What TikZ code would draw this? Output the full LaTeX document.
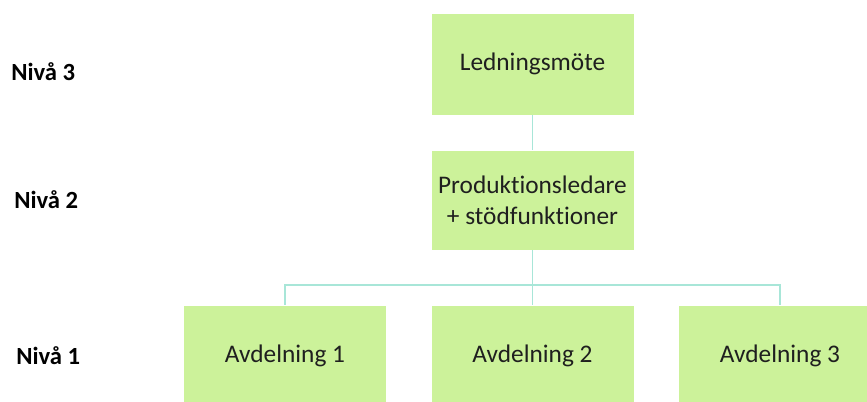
\documentclass[tikz,border=0pt]{standalone}
\usepackage{fontspec}
\setmainfont{Carlito}[RawFeature={-liga;-clig}]
\definecolor{boxfill}{HTML}{CCF29A}
\definecolor{linecol}{HTML}{A8E6D8}
\begin{document}
\begin{tikzpicture}[x=0.75pt,y=-0.75pt,
  orgbox/.style={fill=boxfill,draw=white,line width=0.6pt,minimum width=203*0.75pt,minimum height=102*0.75pt,inner sep=0pt,align=center,font=\fontsize{19}{23}\selectfont,text=black!88},
  level/.style={font=\bfseries\fontsize{18.5}{22}\selectfont,anchor=west,inner sep=0pt},
  conn/.style={draw=linecol,line width=1.2pt}]
\useasboundingbox (0,0) rectangle (867,401);
\begin{scope}
\clip (0,0) rectangle (867,401);
\node[orgbox] (top) at (532.5,64) {Ledningsmöte};
\node[orgbox,minimum height=100*0.75pt] (mid) at (532.5,200) {Produktionsledare\\+ stödfunktioner};
\node[orgbox] (a1) at (285,356) {Avdelning 1};
\node[orgbox] (a2) at (532.5,356) {Avdelning 2};
\node[orgbox] (a3) at (780,356) {Avdelning 3};
\coordinate (j) at (532.5,285);
\draw[conn] (top.south) -- (mid.north);
\draw[conn] (mid.south) -- (j);
\draw[conn] (j) -| (a1.north);
\draw[conn] (j) -- (a2.north);
\draw[conn] (j) -| (a3.north);
\end{scope}
\node[level] (n3) at (11,72) {Nivå 3};
\node[level] (n2) at (14,200) {Nivå 2};
\node[level] (n1) at (16,356) {Nivå 1};
\end{tikzpicture}
\end{document}
